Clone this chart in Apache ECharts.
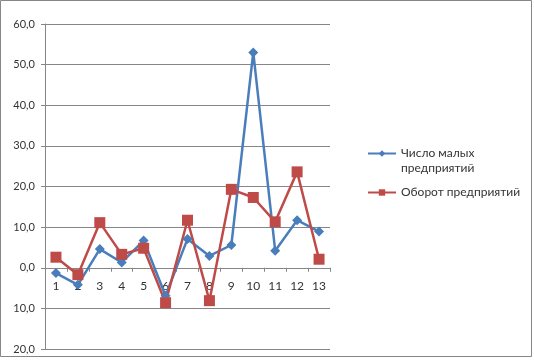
<!DOCTYPE html>
<html><head><meta charset="utf-8">
<script src="https://cdn.jsdelivr.net/npm/echarts@6/dist/echarts.min.js"></script>
<style>html,body{margin:0;padding:0;background:#fff}#c{width:534px;height:360px}</style>
</head><body><div id="c"></div>
<script>
const categories = ['1','2','3','4','5','6','7','8','9','10','11','12','13'];
const smallEnterprises = [-1.3, -4.2, 4.6, 1.3, 6.7, -6.9, 7.1, 2.9, 5.6, 53.0, 4.2, 11.7, 8.9];
const turnover = [2.6, -1.7, 11.1, 3.3, 4.8, -8.6, 11.7, -8.1, 19.3, 17.3, 11.3, 23.6, 2.1];
const seriesNames = ['Число малых\nпредприятий', 'Оборот предприятий'];
const yMin = -20, yMax = 60;

const gridTop = 24, gridHeight = 325;
const chart = echarts.init(document.getElementById('c'));
const font = 'Lato, "Open Sans", sans-serif';
chart.setOption({
  animation: false,
  graphic: [{type:'rect', shape:{x:0.5,y:0.5,width:531,height:356}, style:{fill:'none', stroke:'#868686', lineWidth:1}}],
  grid: {left: 45, top: gridTop, width: 285, height: gridHeight, containLabel: false, outerBoundsMode: 'none'},
  legend: {
    orient: 'vertical', left: 362, top: 126, itemWidth: 28, itemHeight: 8, itemGap: 9,
    textStyle: {fontFamily: font, fontSize: 12, color: '#333', lineHeight: 15},
    formatter: name => name.indexOf('\n') >= 0 ? ' \n' + name : name,
    data: seriesNames
  },
  xAxis: {
    type: 'category', data: categories, boundaryGap: true, position: 'bottom',
    offset: -gridHeight * (0 - yMin) / (yMax - yMin),
    axisLine: {onZero: false, lineStyle: {color: '#868686', width: 1}},
    axisTick: {show: true, length: 4, lineStyle: {color: '#868686'}},
    axisLabel: {fontFamily: font, fontSize: 12, color: '#333', margin: 12}
  },
  yAxis: {
    type: 'value', min: yMin, max: yMax, interval: 10,
    axisLine: {show: true, lineStyle: {color: '#868686'}},
    axisTick: {show: true, length: 4, lineStyle: {color: '#868686'}},
    splitLine: {lineStyle: {color: '#868686'}},
    axisLabel: {fontFamily: font, fontSize: 11, color: '#333', margin: 10,
      formatter: v => Math.abs(v).toFixed(1).replace('.', ',')}
  },
  series: [
    {name: seriesNames[0], type: 'line', data: smallEnterprises, symbol: 'diamond', symbolSize: 10,
      lineStyle: {color: '#4a7ebb', width: 2.5}, itemStyle: {color: '#4a7ebb'}},
    {name: seriesNames[1], type: 'line', data: turnover, symbol: 'rect', symbolSize: 11,
      lineStyle: {color: '#be4b48', width: 2.5}, itemStyle: {color: '#be4b48'}}
  ]
});
</script></body></html>
